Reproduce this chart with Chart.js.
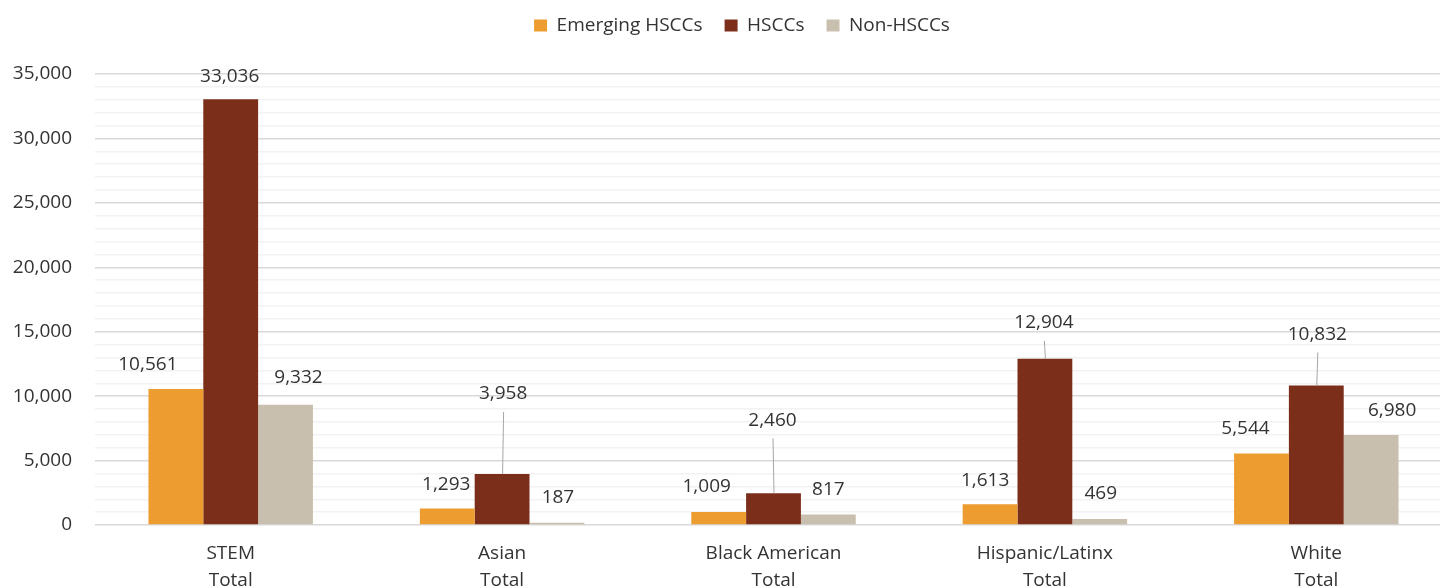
<!DOCTYPE html>
<html>
<head>
<meta charset="utf-8">
<script src="https://cdn.jsdelivr.net/npm/chart.js@4/dist/chart.umd.min.js"></script>
<style>
    html, body { margin: 0; padding: 0; background: #fff; overflow: hidden; }
    #wrap { position: relative; width: 1452px; height: 609px; }
</style>
</head>
<body>
<div id="wrap"><canvas id="chart"></canvas></div>
<script>
const categories = [
    ['STEM', 'Total'],
    ['Asian', 'Total'],
    ['Black American', 'Total'],
    ['Hispanic/Latinx', 'Total'],
    ['White', 'Total'],
];
const seriesNames = ['Emerging HSCCs', 'HSCCs', 'Non-HSCCs'];
const emerging = [10561, 1293, 1009, 1613, 5544];
const hsccs = [33036, 3958, 2460, 12904, 10832];
const nonHsccs = [9332, 187, 817, 469, 6980];

const textColor = '#333333';
const fontFamily = "'Open Sans', sans-serif";

// label offsets from bar top (dx, dy, leader line)
const labelOffsets = [
    [[-28, -24], [-1, -24], [-12, -25], [-5, -24], [-16, -25]],
    [[-1, -23], [1, -80, true], [-1, -73, true], [-1, -36, true], [1, -51, true]],
    [[13, -27], [1, -25], [0, -25], [1, -25], [21, -24]],
];

const barLabels = {
    id: 'barLabels',
    afterDatasetsDraw: (chart) => {
        let ctx = chart.ctx;
        ctx.save();
        ctx.font = `19px ${fontFamily}`;
        ctx.textAlign = 'center';
        ctx.textBaseline = 'middle';
        chart.data.datasets.forEach((ds, di) => {
            let meta = chart.getDatasetMeta(di);
            meta.data.forEach((bar, i) => {
                let off = labelOffsets[di][i];
                let lx = bar.x + off[0];
                let ly = bar.y + off[1];
                if (off[2]) {
                    ctx.strokeStyle = '#a6a6a6';
                    ctx.lineWidth = 1;
                    ctx.beginPath();
                    ctx.moveTo(lx + 0.5, ly + 18);
                    ctx.lineTo(bar.x + 0.5, bar.y);
                    ctx.stroke();
                }
                ctx.fillStyle = textColor;
                ctx.fillText(ds.data[i].toLocaleString('en-US'), lx, ly);
            });
        });
        ctx.restore();
    },
};

// extra space under the legend, and nudge it a little right
const legendMargin = {
    id: 'legendMargin',
    beforeInit: (chart) => {
        const fit = chart.legend.fit;
        const draw = chart.legend.draw;
        chart.legend.fit = function () {
            fit.bind(chart.legend)();
            this.height += 30;
        };
        chart.legend.draw = function () {
            chart.ctx.save();
            chart.ctx.translate(16, 1);
            draw.bind(chart.legend)();
            chart.ctx.restore();
        };
    },
};

let chart = new Chart(document.getElementById('chart').getContext('2d'), {
    type: 'bar',
    data: {
        labels: categories,
        datasets: [
            { label: seriesNames[0], data: emerging, backgroundColor: '#ED9D30' },
            { label: seriesNames[1], data: hsccs, backgroundColor: '#7B2E1A' },
            { label: seriesNames[2], data: nonHsccs, backgroundColor: '#C9BFAE' },
        ],
    },
    options: {
        responsive: true,
        maintainAspectRatio: false,
        animation: false,
        layout: { padding: { top: -7, left: 0, right: 0, bottom: 0 } },
        datasets: {
            bar: { categoryPercentage: 0.606, barPercentage: 1.0 },
        },
        plugins: {
            tooltip: { enabled: false },
            legend: {
                position: 'top',
                labels: {
                    color: textColor,
                    font: { family: fontFamily, size: 19 },
                    boxWidth: 13,
                    boxHeight: 12,
                    padding: 22,
                },
            },
        },
        scales: {
            x: {
                grid: { display: false, drawTicks: false },
                border: { display: false },
                ticks: {
                    color: textColor,
                    font: { family: fontFamily, size: 19, lineHeight: 1.42 },
                    padding: 15,
                    maxRotation: 0,
                },
            },
            y: {
                min: 0,
                max: 35000,
                border: { display: false },
                afterFit: (scale) => {
                    scale.width = 95;
                },
                grid: {
                    drawTicks: false,
                    color: (c) => (c.tick && c.tick.value % 5000 === 0 ? '#d9d9d9' : '#f2f2f2'),
                    lineWidth: 1.5,
                },
                ticks: {
                    stepSize: 1000,
                    autoSkip: false,
                    color: textColor,
                    font: { family: fontFamily, size: 19 },
                    padding: 23,
                    callback: (v) => (v % 5000 === 0 ? v.toLocaleString('en-US') : ''),
                },
            },
        },
    },
    plugins: [barLabels, legendMargin],
});
</script>
</body>
</html>
